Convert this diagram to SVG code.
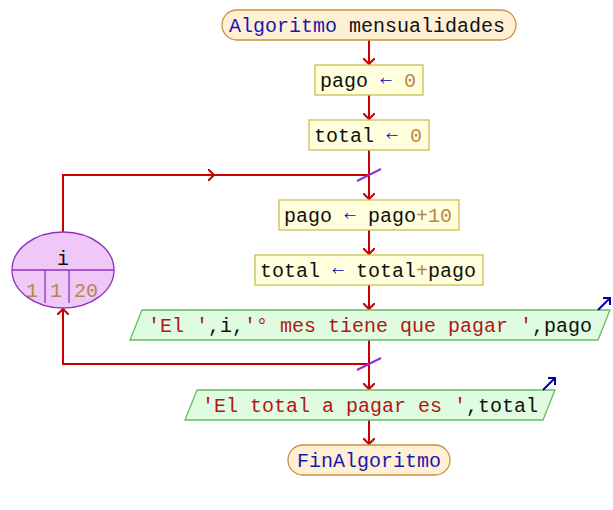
<svg xmlns="http://www.w3.org/2000/svg" width="613" height="510" viewBox="0 0 613 510">
<style>
text{font-family:"Liberation Mono","Courier New",monospace;font-size:20px;fill:#111}
.kw{fill:#1a1ab0}
.op{fill:#0000c0;font-family:"Noto Sans CJK SC",sans-serif;font-size:12px}
.num{fill:#b8864a}
.str{fill:#b01818}
.proc{fill:#ffffdd;stroke:#c8c050;stroke-width:1.3}
.io{fill:#e0fce0;stroke:#60c060;stroke-width:1.3}
.term{fill:#fff0d4;stroke:#c89040;stroke-width:1.3}
.ln{fill:none;stroke:#c80000;stroke-width:2}
.sl{stroke:#9030d0;stroke-width:2}
.oa{fill:none;stroke:#0000a0;stroke-width:2}
</style>
<defs>
<marker id="ah" markerWidth="12" markerHeight="12" refX="6" refY="6" orient="auto" markerUnits="userSpaceOnUse">
<path d="M0,0 L6,6 L0,12" fill="none" stroke="#c80000" stroke-width="2"/>
</marker>
</defs>
<g id="connectors">
<line class="ln" x1="369" y1="40" x2="369" y2="64" marker-end="url(#ah)"/>
<line class="ln" x1="369" y1="95" x2="369" y2="119" marker-end="url(#ah)"/>
<line class="ln" x1="369" y1="150" x2="369" y2="199" marker-end="url(#ah)"/>
<line class="ln" x1="369" y1="230" x2="369" y2="254" marker-end="url(#ah)"/>
<line class="ln" x1="369" y1="285" x2="369" y2="309" marker-end="url(#ah)"/>
<line class="ln" x1="369" y1="340" x2="369" y2="389" marker-end="url(#ah)"/>
<line class="ln" x1="369" y1="420" x2="369" y2="444" marker-end="url(#ah)"/>
<path class="ln" d="M63,232 L63,175 L369,175"/>
<line class="ln" x1="63" y1="175" x2="214" y2="175" marker-end="url(#ah)"/>
<path class="ln" d="M369,364 L63,364 L63,310"/>
<line class="ln" x1="63" y1="330" x2="63" y2="309" marker-end="url(#ah)"/>
<line class="sl" x1="357" y1="181" x2="381" y2="169"/>
<line class="sl" x1="357" y1="370" x2="381" y2="358"/>
</g>
<g id="start">
<rect class="term" x="222" y="10" width="294" height="30" rx="15"/>
<text x="229" y="32"><tspan class="kw">Algoritmo</tspan> mensualidades</text>
</g>
<g id="pago0">
<rect class="proc" x="315" y="65" width="108" height="30"/>
<text x="320" y="87">pago <tspan class="op" dy="-1">←</tspan> <tspan class="num" dy="1">0</tspan></text>
</g>
<g id="total0">
<rect class="proc" x="309" y="120" width="120" height="30"/>
<text x="314" y="142">total <tspan class="op" dy="-1">←</tspan> <tspan class="num" dy="1">0</tspan></text>
</g>
<g id="loop">
<ellipse cx="63" cy="270" rx="51" ry="38" fill="#f0c8f8" stroke="#9030c0" stroke-width="1.3"/>
<line x1="12" y1="270" x2="114" y2="270" stroke="#9030c0" stroke-width="1.3"/>
<line x1="45" y1="270" x2="45" y2="303" stroke="#9030c0" stroke-width="1.3"/>
<line x1="69" y1="270" x2="69" y2="303" stroke="#9030c0" stroke-width="1.3"/>
<text x="63" y="265" text-anchor="middle">i</text>
<text class="num" x="32" y="297" text-anchor="middle">1</text>
<text class="num" x="56" y="297" text-anchor="middle">1</text>
<text class="num" x="86" y="297" text-anchor="middle">20</text>
</g>
<g id="pagoinc">
<rect class="proc" x="279" y="200" width="180" height="30"/>
<text x="284" y="222">pago <tspan class="op" dy="-1">←</tspan> <tspan dy="1">pago</tspan><tspan class="num">+10</tspan></text>
</g>
<g id="totalinc">
<rect class="proc" x="255" y="255" width="228" height="30"/>
<text x="260" y="277">total <tspan class="op" dy="-1">←</tspan> <tspan dy="1">total</tspan><tspan class="num">+</tspan>pago</text>
</g>
<g id="out1">
<polygon class="io" points="142,310 610,310 598,340 130,340"/>
<text x="148" y="332"><tspan class="str">'El '</tspan>,i,<tspan class="str">'° mes tiene que pagar '</tspan>,pago</text>
<path class="oa" d="M598,310 L610,298 M603,298 L610,298 L610,305"/>
</g>
<g id="out2">
<polygon class="io" points="197,390 555,390 543,420 185,420"/>
<text x="202" y="412"><tspan class="str">'El total a pagar es '</tspan>,total</text>
<path class="oa" d="M543,390 L555,378 M548,378 L555,378 L555,385"/>
</g>
<g id="end">
<rect class="term" x="288" y="445" width="162" height="30" rx="15"/>
<text x="369" y="467" text-anchor="middle" class="kw">FinAlgoritmo</text>
</g>
</svg>
